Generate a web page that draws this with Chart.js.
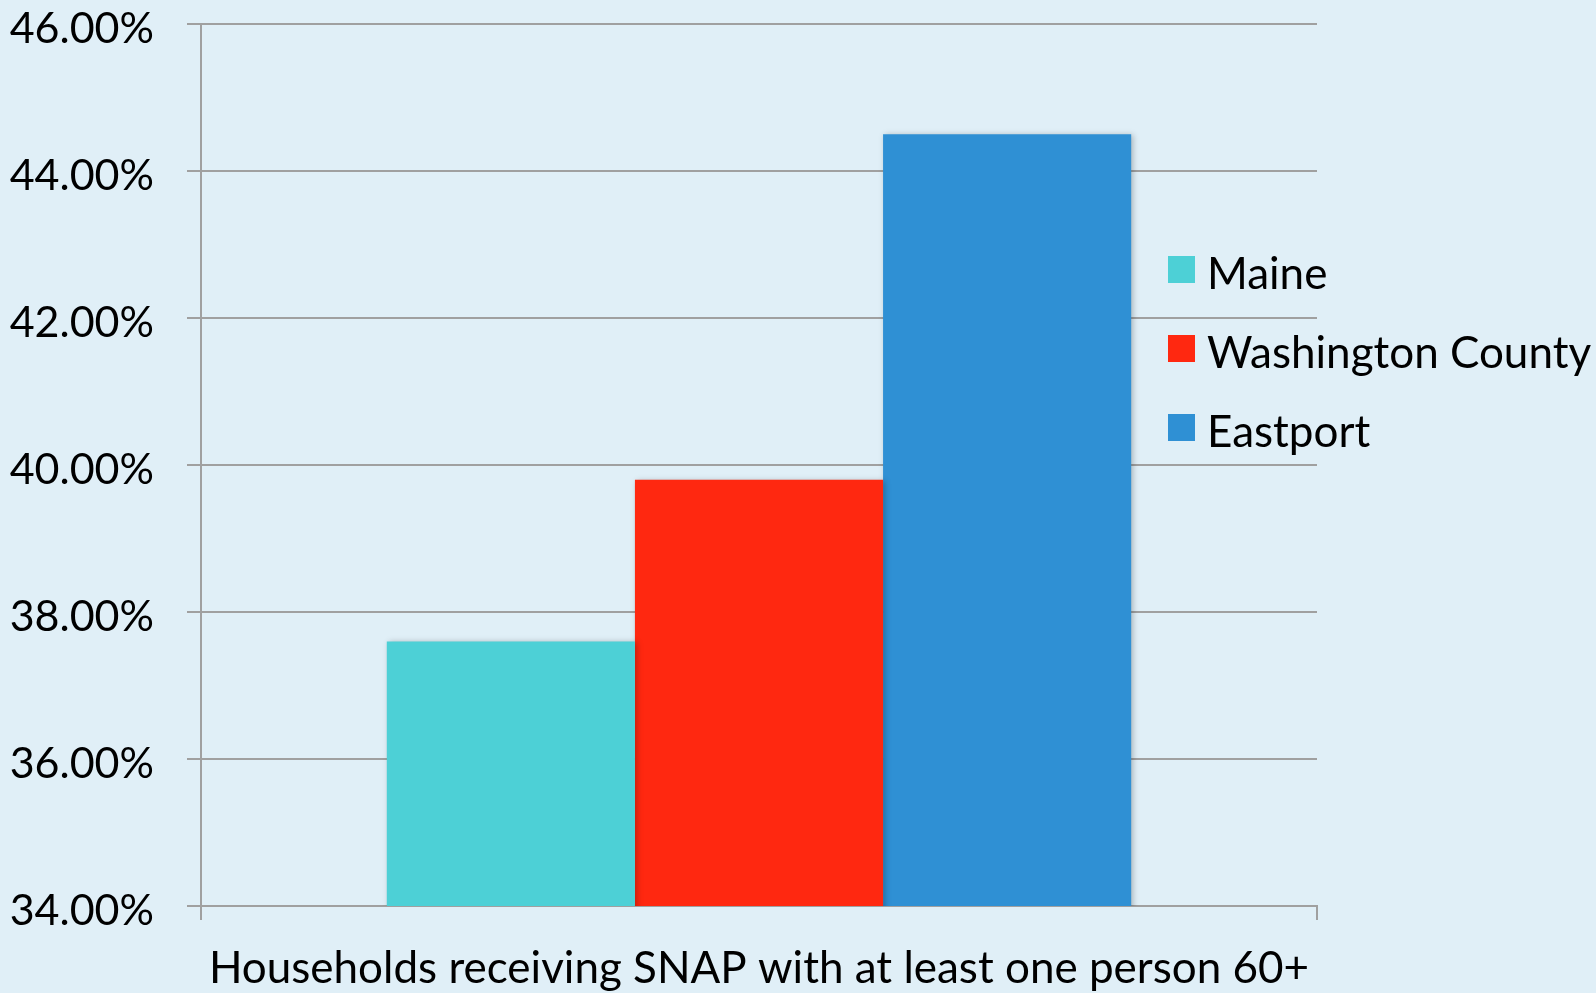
<!DOCTYPE html>
<html>
<head>
<meta charset="utf-8">
<script src="https://cdn.jsdelivr.net/npm/chart.js@4"></script>
<style>
  html, body { margin: 0; padding: 0; background: #e0eff7; }
  #wrap { width: 1596px; height: 993px; position: relative; }
</style>
</head>
<body>
<div id="wrap"><canvas id="chart" width="1596" height="993"></canvas></div>
<script>
const categories = ['Households receiving SNAP with at least one person 60+'];
const seriesNames = ['Maine', 'Washington County', 'Eastport'];
const maineValues = [37.6];
const washingtonValues = [39.8];
const eastportValues = [44.5];
const seriesColors = ['#4dd0d6', '#ff2810', '#2f90d4'];
const yMin = 34;
const yMax = 46;

const FONT = 'Lato, "Liberation Sans", sans-serif';

// legend drawn by hand so it can sit over the right end of the plot
const sideLegend = {
  id: 'sideLegend',
  afterDraw(c) {
    const ctx = c.ctx;
    ctx.save();
    ctx.font = '44px ' + FONT;
    ctx.textBaseline = 'middle';
    c.data.datasets.forEach((ds, i) => {
      const y = 269 + i * 79;
      ctx.fillStyle = ds.backgroundColor;
      ctx.fillRect(1168, y - 13, 27, 27);
      ctx.fillStyle = '#000';
      ctx.fillText(ds.label, 1207, y + 6);
    });
    ctx.restore();
  }
};

const barShadow = {
  id: 'barShadow',
  beforeDatasetsDraw(c) {
    c.ctx.save();
    c.ctx.shadowColor = 'rgba(0,0,0,0.25)';
    c.ctx.shadowBlur = 6;
    c.ctx.shadowOffsetX = 2;
    c.ctx.shadowOffsetY = 1;
  },
  afterDatasetsDraw(c) {
    c.ctx.restore();
  }
};

const bgPlugin = {
  id: 'bg',
  beforeDraw(c) {
    c.ctx.save();
    c.ctx.fillStyle = '#e0eff7';
    c.ctx.fillRect(0, 0, c.width, c.height);
    c.ctx.restore();
  }
};

new Chart(document.getElementById('chart'), {
  type: 'bar',
  data: {
    labels: categories,
    datasets: [
      { label: seriesNames[0], data: maineValues, backgroundColor: seriesColors[0] },
      { label: seriesNames[1], data: washingtonValues, backgroundColor: seriesColors[1] },
      { label: seriesNames[2], data: eastportValues, backgroundColor: seriesColors[2] }
    ]
  },
  options: {
    responsive: false,
    animation: false,
    layout: { padding: { top: 24, right: 279, left: 0, bottom: 0 } },
    datasets: { bar: { categoryPercentage: 0.667, barPercentage: 1.0 } },
    plugins: {
      legend: { display: false },
      tooltip: { enabled: false }
    },
    scales: {
      x: {
        grid: { drawOnChartArea: false, color: '#a0a0a0', tickLength: 14, lineWidth: 2 },
        border: { color: '#a0a0a0', width: 2 },
        ticks: { color: '#000', font: { family: FONT, size: 44 }, padding: 22, maxRotation: 0 },
        afterFit(s) { s.height = 87; s.paddingLeft = 0; s.paddingRight = 0; }
      },
      y: {
        min: yMin,
        max: yMax,
        ticks: {
          stepSize: 2,
          color: '#000',
          padding: 33,
          labelOffset: 5,
          font: { family: FONT, size: 43 },
          callback: v => v.toFixed(2) + '%'
        },
        grid: { color: '#a0a0a0', lineWidth: 2, tickLength: 14 },
        border: { color: '#a0a0a0', width: 2 },
        afterFit(s) { s.width = 201; s.paddingTop = 0; s.paddingBottom = 0; }
      }
    }
  },
  plugins: [bgPlugin, barShadow, sideLegend]
});
</script>
</body>
</html>
